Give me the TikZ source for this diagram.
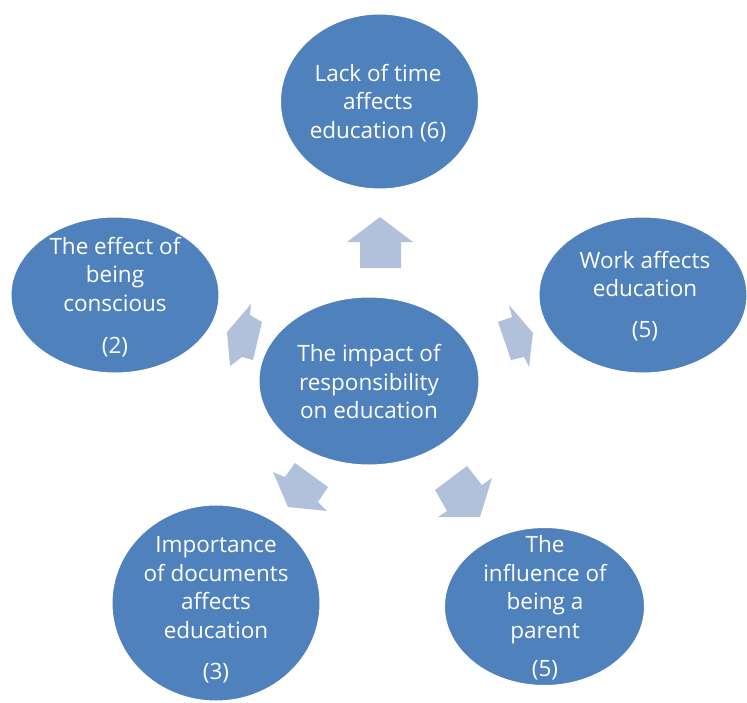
\documentclass[tikz,border=0pt]{standalone}
\usepackage{fontspec}
\setmainfont{Open Sans}
\usetikzlibrary{shapes.geometric}
\definecolor{bubble}{HTML}{4F81BD}
\definecolor{blockarrow}{HTML}{B2C1DB}
\tikzset{
  bubble/.style={ellipse, fill=bubble, draw=white, line width=1pt, inner sep=0pt},
  bubbletext/.style={text=white, align=center, font=\fontsize{22.5}{28.5}\selectfont, inner sep=0pt},
  blk/.style={fill=blockarrow, draw=none}
}
\begin{document}
\begin{tikzpicture}[x=1pt,y=-1pt]
\useasboundingbox (0,0) rectangle (747,702);
\clip (0,0) rectangle (747,702);
% ellipses
\node[bubble, minimum width=198pt, minimum height=175pt] (top) at (379.5,101.5) {};
\node[bubble, minimum width=208pt, minimum height=156pt] (left) at (115,295) {};
\node[bubble, minimum width=208pt, minimum height=156pt] (right) at (643,295) {};
\node[bubble, minimum width=220pt, minimum height=168pt] (center) at (369,381) {};
\node[bubble, minimum width=208pt, minimum height=196pt] (bl) at (216,603) {};
\node[bubble, minimum width=200pt, minimum height=158pt] (br) at (544.5,606.5) {};
% texts
\node[bubbletext] (toptext) at (378,103) {Lack of time\\affects\\education (6)};
\node[bubbletext] (lefttext) at (115,297) {The effect of\\being\\conscious\\[14pt](2)};
\node[bubbletext] (righttext) at (645,296) {Work affects\\education\\[12pt](5)};
\node[bubbletext] (centertext) at (369,381.5) {The impact of\\responsibility\\on education};
\node[bubbletext] (bltext) at (216,610) {Importance\\of documents\\affects\\education\\[13pt](3)};
\node[bubbletext] (brtext) at (545,608) {The\\influence of\\being a\\parent\\[10pt](5)};
% block arrows
\path[blk] (380,217) -- (413,242) -- (401,242) -- (401,268) -- (360,268) -- (360,242) -- (347,242) -- cycle;
\path[blk] (227,332) -- (251,304) -- (250,315) -- (262,322) -- (253,360) -- (242,357) -- (230,366) -- cycle;
\path[blk] (533,333) -- (529,367) -- (524,357) -- (511,360) -- (498,322) -- (512,317) -- (509,305) -- cycle;
\path[blk] (288,507) -- (273,472) -- (285,477) -- (295,463) -- (328,487) -- (318,502) -- (327,511) -- cycle;
\path[blk] (480,517) -- (438,517) -- (447,511) -- (435,490) -- (467,466) -- (482,485) -- (492,478) -- cycle;
\end{tikzpicture}
\end{document}
